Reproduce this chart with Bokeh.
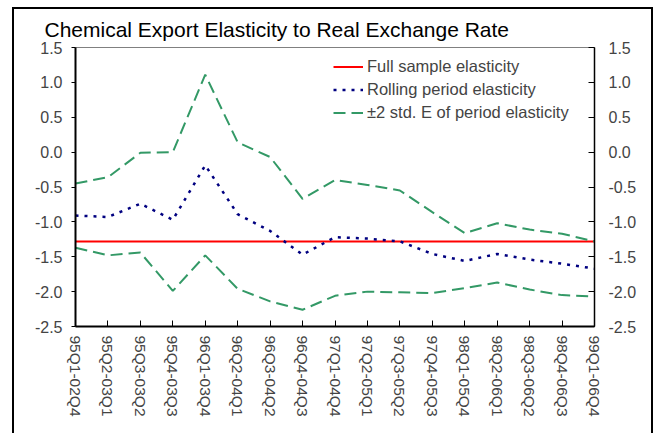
from bokeh.plotting import figure
from bokeh.models import Range1d, FixedTicker, PrintfTickFormatter, LinearAxis, Legend, LegendItem
from bokeh.embed import file_html
from bokeh.resources import INLINE

title_text = "Chemical Export Elasticity to Real Exchange Rate"
periods = ["95Q1-02Q4", "95Q2-03Q1", "95Q3-03Q2", "95Q4-03Q3", "96Q1-03Q4", "96Q2-04Q1",
           "96Q3-04Q2", "96Q4-04Q3", "97Q1-04Q4", "97Q2-05Q1", "97Q3-05Q2", "97Q4-05Q3",
           "98Q1-05Q4", "98Q2-06Q1", "98Q3-06Q2", "98Q4-06Q3", "99Q1-06Q4"]
full_sample = -1.28
rolling = [-0.91, -0.93, -0.74, -0.97, -0.19, -0.89, -1.13, -1.47, -1.22, -1.24, -1.28,
           -1.46, -1.56, -1.46, -1.54, -1.60, -1.67]
upper = [-0.45, -0.36, -0.01, 0.0, 1.11, 0.14, -0.07, -0.67, -0.40, -0.47, -0.55,
         -0.86, -1.16, -1.02, -1.11, -1.17, -1.28]
lower = [-1.37, -1.48, -1.44, -1.99, -1.48, -1.96, -2.14, -2.26, -2.06, -2.00, -2.01,
         -2.02, -1.95, -1.87, -1.97, -2.05, -2.07]
y_ticks = [-2.5, -2.0, -1.5, -1.0, -0.5, 0.0, 0.5, 1.0, 1.5]

FONT = "Liberation Sans"
RED = "#FF0000"
NAVY = "#000080"
GREEN = "#339966"

xs = list(range(len(periods)))

p = figure(width=641, height=426, output_backend="svg", toolbar_location=None,
           x_range=Range1d(0, len(periods) - 1), y_range=Range1d(-2.5, 1.5),
           min_border_left=61, min_border_right=61, min_border_top=38, min_border_bottom=109,
           title=title_text)
p.margin = (7, 0, 0, 12)
p.styles = {"border-top": "2px solid black", "border-left": "2px solid black",
            "border-right": "2px solid black"}

p.title.text_font = FONT
p.title.text_font_size = "21px"
p.title.text_font_style = "normal"
p.title.text_color = "black"
p.title.offset = -31
p.title.standoff = 13

p.xgrid.visible = False
p.ygrid.visible = False
p.outline_line_color = "#808080"
p.outline_line_width = 1

r_full = p.line(xs, [full_sample] * len(xs), line_color=RED, line_width=2)
r_roll = p.line(xs, rolling, line_color=NAVY, line_width=2.5, line_dash="3 6")
r_up = p.line(xs, upper, line_color=GREEN, line_width=2, line_dash="12 6")
r_lo = p.line(xs, lower, line_color=GREEN, line_width=2, line_dash="12 6")

# left axis
ya = p.yaxis[0]
ya.ticker = FixedTicker(ticks=y_ticks)
ya.formatter = PrintfTickFormatter(format="%.1f")
ya.axis_line_width = 2
ya.major_tick_out = 4
ya.major_tick_in = 0
ya.minor_tick_out = 0
ya.minor_tick_in = 0
ya.major_label_text_font = FONT
ya.major_label_text_font_size = "16px"
ya.major_label_standoff = 9

# right axis
ra = LinearAxis(ticker=FixedTicker(ticks=y_ticks), formatter=PrintfTickFormatter(format="%.1f"))
ra.axis_line_width = 1.5
ra.major_tick_in = 6
ra.major_tick_out = 0
ra.minor_tick_in = 0
ra.minor_tick_out = 0
ra.major_label_text_font = FONT
ra.major_label_text_font_size = "16px"
ra.major_label_standoff = 14
p.add_layout(ra, "right")

# bottom axis
xa = p.xaxis[0]
xa.ticker = FixedTicker(ticks=xs)
xa.major_label_overrides = {i: s for i, s in enumerate(periods)}
xa.major_label_orientation = "vertical"
xa.axis_line_width = 2
xa.major_tick_in = 6
xa.major_tick_out = 0
xa.minor_tick_in = 0
xa.minor_tick_out = 0
xa.major_label_text_font = FONT
xa.major_label_text_font_size = "15.5px"
xa.major_label_standoff = 9

legend = Legend(items=[
    LegendItem(label="Full sample elasticity", renderers=[r_full]),
    LegendItem(label="Rolling period elasticity", renderers=[r_roll]),
    LegendItem(label="±2 std. E of period elasticity", renderers=[r_up]),
], location=(258, 202))
legend.border_line_color = None
legend.background_fill_alpha = 0
legend.padding = 0
legend.spacing = 0
legend.margin = 0
legend.label_height = 23
legend.glyph_height = 23
legend.glyph_width = 30
legend.label_standoff = 4
legend.label_text_font = FONT
legend.label_text_font_size = "16.5px"
p.add_layout(legend, "center")

open("out.html", "w").write(file_html(p, INLINE))
